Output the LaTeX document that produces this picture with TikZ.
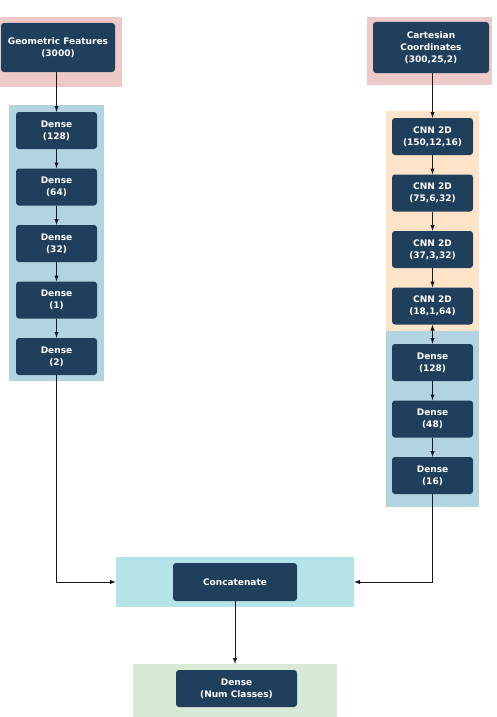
\documentclass[tikz,border=0pt]{standalone}
\usepackage{fontspec}
\setmainfont{DejaVu Sans}
\usetikzlibrary{arrows}

\definecolor{layerblue}{HTML}{203F5C}
\definecolor{pinkbg}{HTML}{EDCAC8}
\definecolor{bluebg}{HTML}{B2D4E0}
\definecolor{orangebg}{HTML}{FDE3C8}
\definecolor{cyanbg}{HTML}{B4E4E8}
\definecolor{greenbg}{HTML}{D8E9D5}

\tikzset{
	layer/.style = {rounded corners=3pt, fill=layerblue, text=white, align=center,
		font=\bfseries\fontsize{9}{12}\selectfont, inner sep=0pt,
		minimum width=81pt, minimum height=37pt},
	panel/.style = {inner sep=0pt, draw=none},
	flow/.style = {->, >=latex, line width=1pt, black!90}
}

\begin{document}
\begin{tikzpicture}[x=1pt, y=-1pt]
	\useasboundingbox (0,0) rectangle (496,717);

	% backgrounds
	\node (geobg) [panel, fill=pinkbg, minimum width=122pt, minimum height=70pt] at (61,52) {};
	\node (cartbg) [panel, fill=pinkbg, minimum width=125pt, minimum height=68pt] at (429.5,51) {};
	\node (leftbg) [panel, fill=bluebg, minimum width=95pt, minimum height=276pt] at (56.5,243) {};
	\node (cnnbg) [panel, fill=orangebg, minimum width=93pt, minimum height=220pt] at (432.5,221) {};
	\node (rightbg) [panel, fill=bluebg, minimum width=93pt, minimum height=176pt] at (432.5,419) {};
	\node (catbg) [panel, fill=cyanbg, minimum width=238pt, minimum height=50pt] at (235,582) {};
	\node (outbg) [panel, fill=greenbg, minimum width=204pt, minimum height=53pt] at (235,690.5) {};

	% inputs
	\node (geo) [layer, minimum width=114pt, minimum height=49pt] at (58,47.5) {Geometric Features\\(3000)};
	\node (cart) [layer, minimum width=116pt, minimum height=51pt] at (431,47.5) {Cartesian\\Coordinates\\(300,25,2)};

	% left branch
	\node (d1) [layer] at (56.5,130.5) {Dense\\(128)};
	\node (d2) [layer] at (56.5,187) {Dense\\(64)};
	\node (d3) [layer] at (56.5,243.5) {Dense\\(32)};
	\node (d4) [layer] at (56.5,300) {Dense\\(1)};
	\node (d5) [layer] at (56.5,356.5) {Dense\\(2)};

	% right branch
	\node (c1) [layer] at (432.5,136.5) {CNN 2D\\(150,12,16)};
	\node (c2) [layer] at (432.5,193) {CNN 2D\\(75,6,32)};
	\node (c3) [layer] at (432.5,249.5) {CNN 2D\\(37,3,32)};
	\node (c4) [layer] at (432.5,306) {CNN 2D\\(18,1,64)};
	\node (r1) [layer] at (432.5,362.5) {Dense\\(128)};
	\node (r2) [layer] at (432.5,419) {Dense\\(48)};
	\node (r3) [layer] at (432.5,475.5) {Dense\\(16)};

	% merge
	\node (cat) [layer, minimum width=124pt, minimum height=38pt] at (235,582) {Concatenate};
	\node (out) [layer, minimum width=121pt] at (236.5,688.5) {Dense\\(Num Classes)};

	\draw [flow] (geo.south -| d1.north) -- (d1);
	\draw [flow] (d1) -- (d2);
	\draw [flow] (d2) -- (d3);
	\draw [flow] (d3) -- (d4);
	\draw [flow] (d4) -- (d5);
	\draw [flow] (cart.south -| c1.north) -- (c1);
	\draw [flow] (c1) -- (c2);
	\draw [flow] (c2) -- (c3);
	\draw [flow] (c3) -- (c4);
	\draw [flow, <->] (c4) -- (r1);
	\draw [flow] (r1) -- (r2);
	\draw [flow] (r2) -- (r3);
	\draw [flow] (d5.south) |- (catbg.west);
	\draw [flow] (r3.south) |- (catbg.east);
	\draw [flow] (cat) -- (cat |- outbg.north);
\end{tikzpicture}
\end{document}
